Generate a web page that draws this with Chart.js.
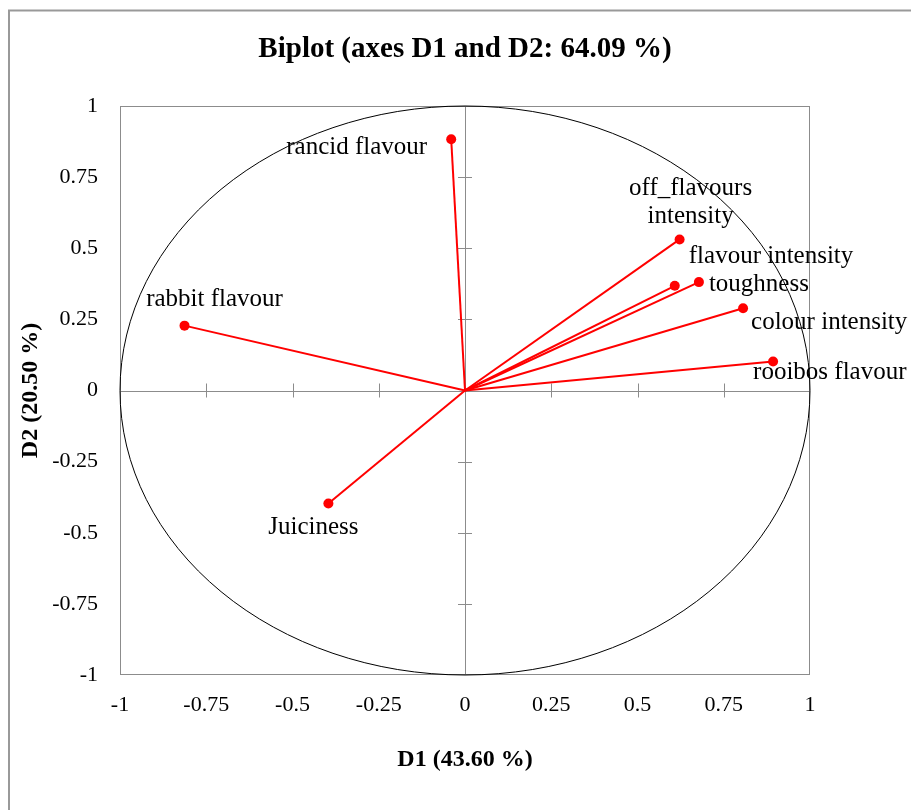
<!DOCTYPE html>
<html>
<head>
<meta charset="utf-8">
<script src="https://cdn.jsdelivr.net/npm/chart.js@4/dist/chart.umd.min.js"></script>
<style>
  html, body { margin:0; padding:0; background:#fff; }
  #wrap { width:911px; height:810px; position:relative; }
</style>
</head>
<body>
<div id="wrap"><canvas id="biplot"></canvas></div>
<script>
// variables and their loadings on D1 / D2
const variables = ["rancid flavour","rabbit flavour","off_flavours\nintensity","flavour intensity","toughness","colour intensity","rooibos flavour","Juiciness"];
const d1 = [-0.04, -0.813, 0.622, 0.608, 0.678, 0.806, 0.893, -0.396];
const d2 = [0.883, 0.228, 0.531, 0.368, 0.381, 0.289, 0.102, -0.397];
const tickValues = [-1,-0.75,-0.5,-0.25,0,0.25,0.5,0.75,1];

// where each label sits relative to its point (px)
const labelPlace = [
  {align:"right", dx:-24, dy:8},
  {align:"center", dx:30, dy:-26},
  {align:"center", dx:11, dy:-51},
  {align:"left", dx:14, dy:-29},
  {align:"left", dx:10, dy:2},
  {align:"left", dx:8, dy:14},
  {align:"left", dx:-20, dy:11},
  {align:"center", dx:-15, dy:24}
];

const serif = "'Liberation Serif', 'Times New Roman', serif";
const grey = "#8c8c8c";

let datasets = variables.map((v, i) => ({
  label: v,
  data: [{x:0, y:0}, {x:d1[i], y:d2[i]}],
  showLine: true,
  borderColor: "#ff0000",
  backgroundColor: "#ff0000",
  borderWidth: 2,
  pointRadius: [0, 5],
  pointHoverRadius: [0, 5],
  pointBorderWidth: 0
}));

const decor = {
  id: "decor",
  beforeDraw(chart) {
    let c = chart.ctx;
    c.save();
    c.strokeStyle = "#999";
    c.lineWidth = 2;
    c.beginPath();
    c.moveTo(9, 812); c.lineTo(9, 10.5); c.lineTo(913, 10.5);
    c.stroke();
    c.restore();
  },
  beforeDatasetsDraw(chart) {
    let c = chart.ctx, a = chart.chartArea;
    let xs = chart.scales.x, ys = chart.scales.y;
    let x0 = xs.getPixelForValue(0), y0 = ys.getPixelForValue(0);
    c.save();
    c.strokeStyle = grey;
    c.lineWidth = 1;
    c.strokeRect(Math.round(a.left) + 0.5, Math.round(a.top) + 0.5, Math.round(a.width) - 1, Math.round(a.height) - 1);
    c.beginPath();
    c.moveTo(a.left, Math.round(y0) + 0.5); c.lineTo(a.right, Math.round(y0) + 0.5);
    c.moveTo(Math.round(x0) + 0.5, a.top); c.lineTo(Math.round(x0) + 0.5, a.bottom);
    tickValues.forEach(t => {
      if (t === 0 || Math.abs(t) === 1) return;
      let px = Math.round(xs.getPixelForValue(t)) + 0.5;
      c.moveTo(px, y0 - 7); c.lineTo(px, y0 + 7);
      let py = Math.round(ys.getPixelForValue(t)) + 0.5;
      c.moveTo(x0 - 7, py); c.lineTo(x0 + 7, py);
    });
    c.stroke();
    // correlation circle
    c.strokeStyle = "#000";
    c.beginPath();
    c.ellipse(x0, y0, xs.getPixelForValue(1) - x0, y0 - ys.getPixelForValue(1), 0, 0, Math.PI * 2);
    c.stroke();
    c.restore();
  },
  afterDatasetsDraw(chart) {
    let c = chart.ctx;
    c.save();
    c.fillStyle = "#000";
    c.font = "25px " + serif;
    c.textBaseline = "middle";
    variables.forEach((v, i) => {
      let p = labelPlace[i];
      let px = chart.scales.x.getPixelForValue(d1[i]) + p.dx;
      let py = chart.scales.y.getPixelForValue(d2[i]) + p.dy;
      c.textAlign = p.align;
      v.split("\n").forEach((line, k) => c.fillText(line, px, py + k * 28));
    });
    c.restore();
  }
};

new Chart(document.getElementById("biplot"), {
  type: "scatter",
  data: { datasets: datasets },
  options: {
    responsive: true,
    maintainAspectRatio: false,
    animation: false,
    layout: { padding: { left: 0, right: 101, top: 0, bottom: 0 } },
    plugins: {
      legend: { display: false },
      tooltip: { enabled: false },
      title: {
        display: true,
        fullSize: false,
        text: "Biplot (axes D1 and D2: 64.09 %)",
        color: "#000",
        font: { family: serif, size: 29, weight: "bold" },
        padding: { top: 32, bottom: 39.2 }
      }
    },
    scales: {
      x: {
        type: "linear", min: -1, max: 1,
        grid: { display: false, drawTicks: false },
        border: { display: false },
        afterBuildTicks(s) { s.ticks = tickValues.map(v => ({value: v})); },
        ticks: { color: "#000", padding: 17, font: { family: serif, size: 22 }, callback: v => String(v) },
        title: { display: true, text: "D1 (43.60 %)", color: "#000", padding: { top: 0, bottom: 35.6 }, font: { family: serif, size: 24, weight: "bold" } },
        afterFit(s) { s.height = 135; }
      },
      y: {
        type: "linear", min: -1, max: 1,
        grid: { display: false, drawTicks: false },
        border: { display: false },
        afterBuildTicks(s) { s.ticks = tickValues.map(v => ({value: v})); },
        ticks: { color: "#000", padding: 22, font: { family: serif, size: 22 }, callback: v => String(v) },
        title: { display: true, text: "D2 (20.50 %)", color: "#000", padding: { top: 16, bottom: 0 }, font: { family: serif, size: 24, weight: "bold" } },
        afterFit(s) { s.width = 120; }
      }
    }
  },
  plugins: [decor]
});
</script>
</body>
</html>
